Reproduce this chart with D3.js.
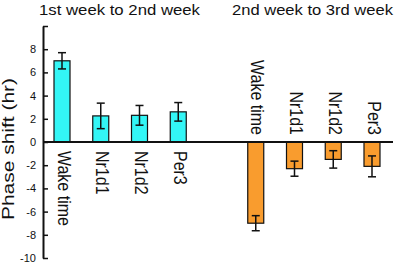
<!DOCTYPE html>
<html><head><meta charset="utf-8">
<script src="https://cdn.jsdelivr.net/npm/d3@7"></script>
<style>body{margin:0;background:#fff}svg{display:block;font-family:"Liberation Sans",Arial,sans-serif}</style>
</head><body><svg id="c" width="397" height="264"></svg>
<script>
const categories1 = ["Wake time","Nr1d1","Nr1d2","Per3"];
const values1 = [7.0, 2.25, 2.3, 2.6];
const errors1 = [0.7, 1.1, 0.85, 0.8];
const categories2 = ["Wake time","Nr1d1","Nr1d2","Per3"];
const values2 = [-7.0, -2.3, -1.5, -2.1];
const errors2 = [0.65, 0.65, 0.75, 0.9];
const groupTitles = ["1st week to 2nd week","2nd week to 3rd week"];
const yTicks = [-10,-8,-6,-4,-2,0,2,4,6,8,10];
const yLabel = "Phase shift (hr)";

const svg = d3.select("#c");
const x0 = 43, x1 = 393;
const y = d3.scaleLinear().domain([-10,10]).range([258,26]);
const slots = d3.range(9);
const x = d3.scaleBand().domain(slots).range([54, 380]).paddingInner(0.587).paddingOuter(0);
const data = categories1.map((c,i)=>({c, v:values1[i], e:errors1[i], slot:i, color:"#33f6f6", g:0}))
  .concat(categories2.map((c,i)=>({c, v:values2[i], e:errors2[i], slot:i+5, color:"#f99c2e", g:1})));

// bars
svg.selectAll("rect.bar").data(data).enter().append("rect")
  .attr("x", d=>x(d.slot)).attr("width", x.bandwidth())
  .attr("y", d=>y(Math.max(0,d.v))).attr("height", d=>Math.abs(y(d.v)-y(0)))
  .attr("fill", d=>d.color).attr("stroke","#111").attr("stroke-width",1.2);

// error bars
const eg = svg.selectAll("g.err").data(data).enter().append("g").attr("stroke","#111").attr("stroke-width",1.5);
const cx = d=>x(d.slot)+x.bandwidth()/2;
eg.append("line").attr("x1",cx).attr("x2",cx)
  .attr("y1",d=>y(d.v+d.e)).attr("y2",d=>y(d.v-d.e));
eg.append("line").attr("x1",d=>cx(d)-4).attr("x2",d=>cx(d)+4)
  .attr("y1",d=>y(d.v+d.e)).attr("y2",d=>y(d.v+d.e));
eg.append("line").attr("x1",d=>cx(d)-4).attr("x2",d=>cx(d)+4)
  .attr("y1",d=>y(d.v-d.e)).attr("y2",d=>y(d.v-d.e));

// y axis
const ax = svg.append("g").attr("transform",`translate(${x0},0)`)
  .call(d3.axisLeft(y).tickValues(yTicks).tickSizeInner(-5).tickSizeOuter(0).tickPadding(7)
    .tickFormat(d=> d===10 ? "" : d));
ax.select(".domain").attr("stroke","#111").attr("stroke-width",2);
ax.selectAll(".tick line").attr("stroke","#111").attr("stroke-width",1.5);
ax.selectAll(".tick text").attr("font-size",11).attr("fill","#111");

// zero line
svg.append("line").attr("x1",x0).attr("x2",x1).attr("y1",y(0)).attr("y2",y(0))
  .attr("stroke","#111").attr("stroke-width",2);

// category labels
svg.selectAll("text.cat").data(data).enter().append("text")
  .attr("transform", d=>`translate(${cx(d)-4.3},${d.v>0 ? y(0)+9 : y(0)-7}) rotate(90) scale(1,1.1)`)
  .attr("text-anchor", d=>d.v>0 ? "start":"end")
  .attr("font-size",16).attr("fill","#111").text(d=>d.c);

// titles
svg.append("text").attr("x",39).attr("y",15).attr("font-size",15).attr("fill","#111")
  .attr("textLength",161).attr("lengthAdjust","spacingAndGlyphs").text(groupTitles[0]);
svg.append("text").attr("x",232).attr("y",15).attr("font-size",15).attr("fill","#111")
  .attr("textLength",161).attr("lengthAdjust","spacingAndGlyphs").text(groupTitles[1]);

// y label
svg.append("text").attr("transform",`translate(14,220) rotate(-90)`).attr("text-anchor","start")
  .attr("font-size",17).attr("fill","#111")
  .attr("textLength",142).attr("lengthAdjust","spacingAndGlyphs").text(yLabel);
</script></body></html>
